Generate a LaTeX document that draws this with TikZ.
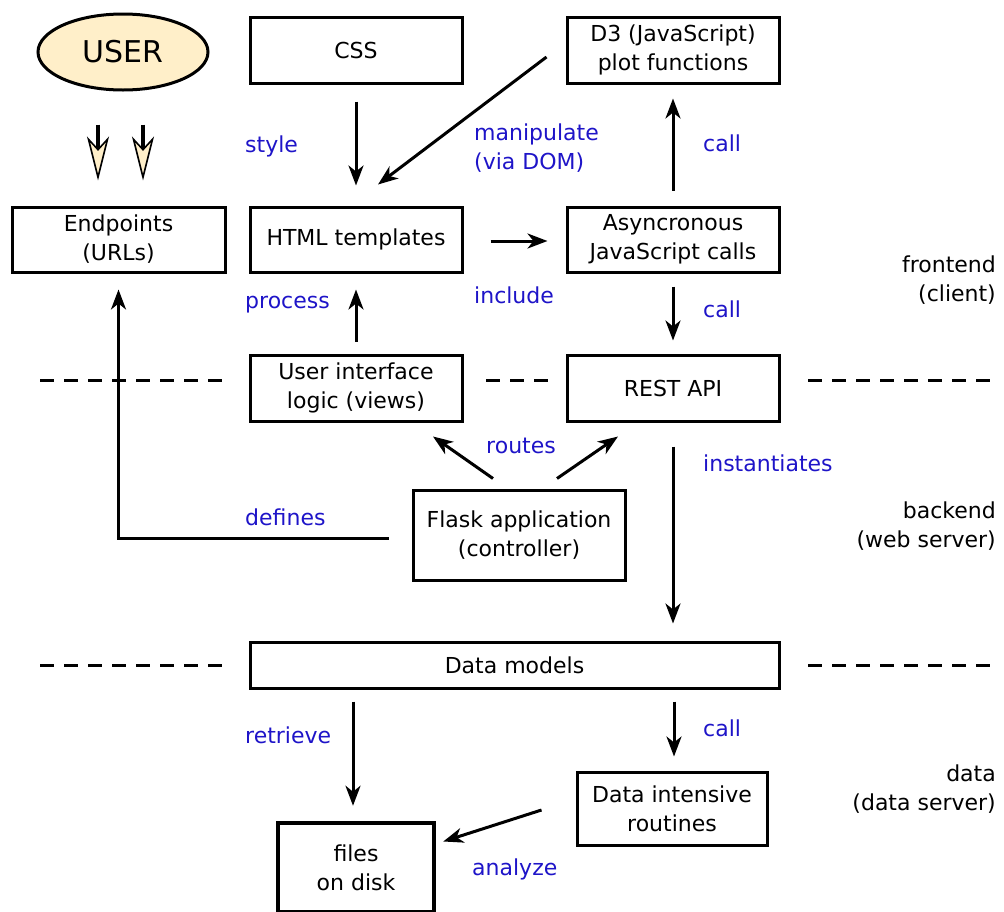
\documentclass[tikz,border=0pt]{standalone}
\usepackage{fontspec}
\setmainfont{DejaVu Sans}
\usetikzlibrary{arrows.meta,shapes.geometric,calc}
\definecolor{cream}{RGB}{255,239,201}
\definecolor{lblue}{RGB}{30,20,200}
\begin{document}
\begin{tikzpicture}[x=1pt,y=-1pt,
  box/.style={draw,line width=3pt,inner sep=0pt,align=center,font=\fontsize{22}{29}\selectfont},
  arr/.style={line width=3pt,-{Stealth[length=20pt,width=15pt,inset=6pt]}},
  uarr/.style={line width=3.5pt,-{Stealth[length=44pt,width=22pt,inset=12pt,fill=cream,line width=1.6pt]}},
  lbl/.style={text=lblue,anchor=west,inner sep=0pt,font=\fontsize{22}{29}\selectfont},
  side/.style={anchor=east,align=right,inner sep=0pt,font=\fontsize{22}{29}\selectfont},
  sep/.style={line width=3pt,dash pattern=on 14pt off 10pt}]
\useasboundingbox (0,0) rectangle (1004,911);
% nodes
\node[draw,line width=3pt,ellipse,fill=cream,minimum width=170pt,minimum height=76pt,inner sep=0pt,font=\fontsize{30}{36}\selectfont] (user) at (123,52) {USER};
\node[box,minimum width=212pt,minimum height=66pt] (css) at (356,50) {CSS};
\node[box,minimum width=212pt,minimum height=66pt] (d3) at (673,50) {D3 (JavaScript)\\plot functions};
\node[box,minimum width=213pt,minimum height=65pt] (endp) at (118.5,239.5) {Endpoints\\(URLs)};
\node[box,minimum width=212pt,minimum height=65pt] (html) at (356,239.5) {HTML templates};
\node[box,minimum width=212pt,minimum height=65pt] (async) at (673,239.5) {Asyncronous\\JavaScript calls};
\node[box,minimum width=212pt,minimum height=66pt] (ui) at (356,388) {User interface\\logic (views)};
\node[box,minimum width=212pt,minimum height=66pt] (rest) at (673,388) {REST API};
\node[box,minimum width=212pt,minimum height=90pt] (flask) at (519,535) {Flask application\\(controller)};
\node[box,minimum width=529pt,minimum height=46pt] (dm) at (514.5,665) {Data models};
\node[box,minimum width=190pt,minimum height=73pt] (dir) at (672,808.5) {Data intensive\\routines};
\node[box,line width=4.5pt,minimum width=156pt,minimum height=89pt] (files) at (356,867.5) {files\\on disk};
% separators
\draw[sep] (40,380) -- (222,380);
\draw[sep] (486,380) -- (550,380);
\draw[sep] (808,380) -- (995,380);
\draw[sep] (40,665) -- (222,665);
\draw[sep] (808,665) -- (995,665);
% user arrows
\draw[uarr,shorten <=33pt,shorten >=25pt] ([xshift=-25pt]user.south) -- ([xshift=-25pt]user.south |- endp.north);
\draw[uarr,shorten <=33pt,shorten >=25pt] ([xshift=20pt]user.south) -- ([xshift=20pt]user.south |- endp.north);
% connectors
\draw[arr,shorten <=17pt,shorten >=20pt] (css.south) -- (html.north);
\draw[arr] ([xshift=-19pt,yshift=-7pt]d3.west) -- ([xshift=22pt,yshift=21pt]html.north);
\draw[arr,shorten <=27pt,shorten >=18pt] ([yshift=-1.5pt]html.east) -- ([yshift=-1.5pt]async.west);
\draw[arr,shorten <=15pt,shorten >=14pt] (async.north) -- (d3.south);
\draw[arr,shorten <=13pt,shorten >=13pt] (async.south) -- (rest.north);
\draw[arr,shorten <=12pt,shorten >=16pt] (ui.north) -- (html.south);
\draw[arr] ([xshift=-26pt,yshift=10pt]flask.north) -- ([xshift=77pt,yshift=-14pt]ui.south);
\draw[arr] ([xshift=38pt,yshift=10pt]flask.north) -- ([xshift=-55pt,yshift=-14pt]rest.south);
\draw[arr,shorten <=24pt,shorten >=17pt] (rest.south) -- (rest.south |- dm.north);
\draw[arr,shorten >=16pt] ([xshift=-23pt,yshift=-3pt]flask.west) -| (endp.south);
\draw[arr,shorten <=12pt,shorten >=15pt] ([xshift=-3pt]files.north |- dm.south) -- ([xshift=-3pt]files.north);
\draw[arr,shorten <=12pt,shorten >=14pt] ([xshift=2pt]dir.north |- dm.south) -- ([xshift=2pt]dir.north);
\draw[arr] ([xshift=-34pt,yshift=-1.5pt]dir.west) -- ([xshift=7pt,yshift=26pt]files.east);
% labels
\node[lbl] (lstyle) at (245,146) {style};
\node[lbl,align=left] (lmanip) at (474,148) {manipulate\\(via DOM)};
\node[lbl] (lcall1) at (703,143) {call};
\node[lbl] (linclude) at (474,295) {include};
\node[lbl] (lcall2) at (703,309) {call};
\node[lbl] (lprocess) at (245,305) {process};
\node[lbl,anchor=center] (lroutes) at (521,446) {routes};
\node[lbl] (linst) at (703,463) {instantiates};
\node[lbl] (ldefines) at (245,517) {defines};
\node[lbl] (lretrieve) at (245,735) {retrieve};
\node[lbl] (lcall3) at (703,728) {call};
\node[lbl] (lanalyze) at (472,869) {analyze};
\node[side] (sfront) at (996,280) {frontend\\(client)};
\node[side] (sback) at (996,526) {backend\\(web server)};
\node[side] (sdata) at (996,789) {data\\(data server)};
\end{tikzpicture}
\end{document}
